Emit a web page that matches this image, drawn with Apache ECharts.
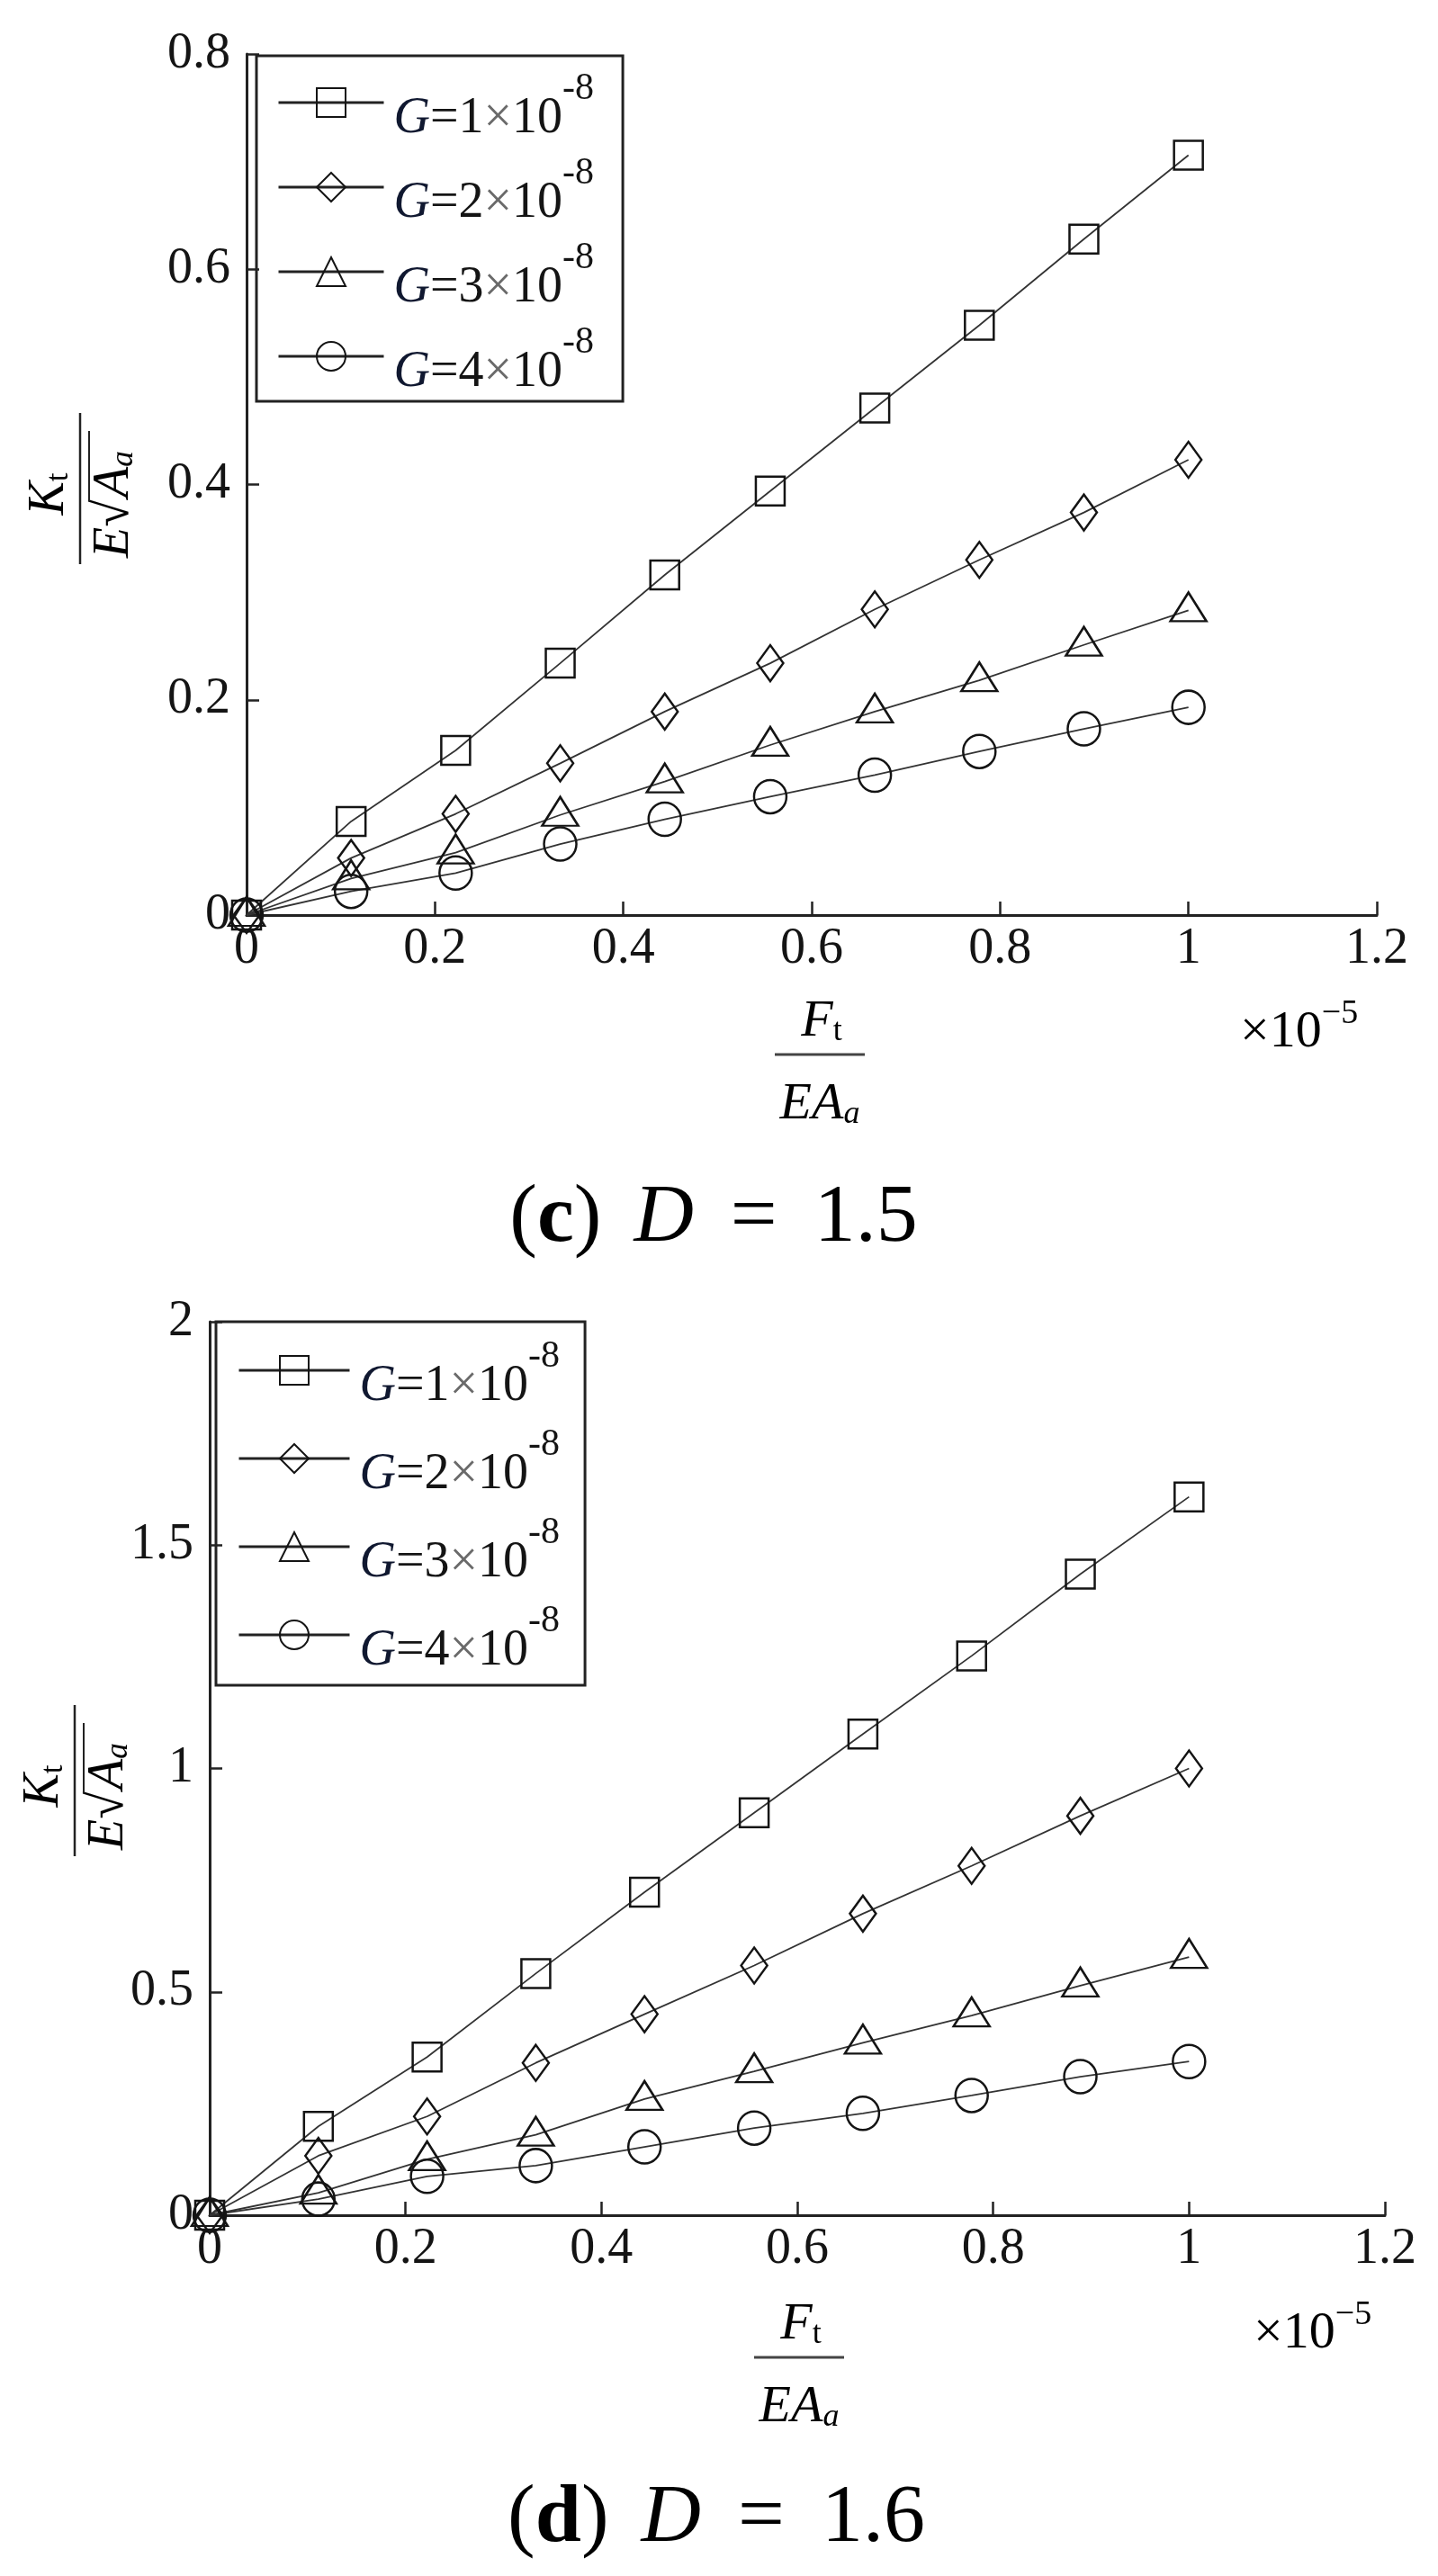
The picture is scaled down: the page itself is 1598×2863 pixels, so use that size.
<!DOCTYPE html>
<html>
<head>
<meta charset="utf-8">
<script src="https://cdn.jsdelivr.net/npm/echarts@6/dist/echarts.min.js"></script>
<style>
  html, body { margin: 0; padding: 0; background: #fff; }
  #chart { width: 1598px; height: 2863px; }
</style>
</head>
<body>
<div id="chart"></div>
<script>
// x values: F_t / (E A_a), in units of 1e-5
const xValues = [0, 0.111, 0.222, 0.333, 0.444, 0.556, 0.667, 0.778, 0.889, 1];

// (c) D = 1.5 : K_t / (E sqrt(A_a))
const d15G1 = [0, 0.087, 0.153, 0.234, 0.316, 0.394, 0.471, 0.548, 0.628, 0.706];
const d15G2 = [0, 0.053, 0.094, 0.141, 0.189, 0.234, 0.284, 0.330, 0.374, 0.423];
const d15G3 = [0, 0.034, 0.058, 0.093, 0.124, 0.158, 0.189, 0.218, 0.251, 0.283];
const d15G4 = [0, 0.022, 0.039, 0.066, 0.089, 0.110, 0.130, 0.152, 0.173, 0.193];

// (d) D = 1.6
const d16G1 = [0, 0.199, 0.354, 0.541, 0.723, 0.901, 1.077, 1.252, 1.435, 1.608];
const d16G2 = [0, 0.133, 0.221, 0.341, 0.450, 0.559, 0.675, 0.782, 0.894, 1.000];
const d16G3 = [0, 0.050, 0.125, 0.180, 0.260, 0.322, 0.386, 0.447, 0.514, 0.578];
const d16G4 = [0, 0.036, 0.087, 0.111, 0.153, 0.195, 0.228, 0.268, 0.310, 0.344];

const seriesNames = ['G=1×10-8', 'G=2×10-8', 'G=3×10-8', 'G=4×10-8'];
const gCoefs = ['1', '2', '3', '4'];
const gExp = '-8';
const panelCaptions = ['c', 'd'];
const panelD = ['1.5', '1.6'];

const FONT = 'Liberation Serif';
const INK = '#141414';

const symbols = ['rect', 'diamond', 'triangle', 'circle'];
const symbolSizes = [[32, 32], [29, 40], [40, 32], [36, 37]];
const symbolOffsets = [[0, 0], [0, 0], [0, -4], [0, 0]];

function tickFmt(v) { return String(+v.toFixed(2)); }

function richSet(size) {
  const s = Math.round(size * 0.62);
  return {
    i: { fontFamily: FONT, fontStyle: 'italic', fontSize: size, lineHeight: size, verticalAlign: 'top', color: INK },
    r: { fontFamily: FONT, fontSize: size, lineHeight: size, verticalAlign: 'top', color: INK },
    sub: { fontFamily: FONT, fontSize: s, lineHeight: s, verticalAlign: 'bottom', padding: [Math.round(size * 0.55), 0, 0, 0], color: INK },
    subi: { fontFamily: FONT, fontStyle: 'italic', fontSize: s, lineHeight: s, verticalAlign: 'bottom', padding: [Math.round(size * 0.55), 0, 0, 0], color: INK }
  };
}

// main text sits at the bottom of a tall line, the exponent at its top
function supRich(main, sup, lineH, supPad) {
  const base = { fontFamily: FONT, fontSize: main, height: main, lineHeight: main, verticalAlign: 'bottom', color: INK };
  return {
    g: Object.assign({}, base, { fontStyle: 'italic', color: '#101830', padding: [0, 0, 0, 6] }),
    n: base,
    x: Object.assign({}, base, { color: '#6a6a6a' }),
    s: { fontFamily: FONT, fontSize: sup, height: sup, lineHeight: lineH, verticalAlign: 'top', padding: [supPad, 0, 0, 0], color: INK }
  };
}

function makeSeries(idx, ys, g) {
  return {
    name: seriesNames[idx],
    type: 'line',
    xAxisIndex: g,
    yAxisIndex: g,
    data: xValues.map((x, i) => [x, ys[i]]),
    symbol: symbols[idx],
    symbolSize: symbolSizes[idx],
    symbolOffset: symbolOffsets[idx],
    showAllSymbol: true,
    lineStyle: { color: '#333', width: 1.8 },
    itemStyle: { color: 'transparent', borderColor: INK, borderWidth: 2.5 },
    emphasis: { disabled: true },
    silent: true
  };
}

function xAxisFor(g) {
  return {
    gridIndex: g, type: 'value', min: 0, max: 1.2, interval: 0.2,
    axisLine: { show: true, onZero: false, lineStyle: { color: '#222', width: 3 } },
    axisTick: { show: true, inside: true, length: 15, lineStyle: { color: '#222', width: 2.5 } },
    axisLabel: { fontFamily: FONT, fontSize: 56, color: INK, margin: 10, formatter: tickFmt },
    splitLine: { show: false }
  };
}

function yAxisFor(g, max, step) {
  return {
    gridIndex: g, type: 'value', min: 0, max: max, interval: step,
    axisLine: { show: true, onZero: false, lineStyle: { color: '#222', width: 3 } },
    axisTick: { show: true, inside: true, length: 14, lineStyle: { color: '#222', width: 2.5 } },
    axisLabel: { fontFamily: FONT, fontSize: 56, color: INK, margin: 18, formatter: tickFmt },
    splitLine: { show: false }
  };
}

function legendFor(left, top, itemWidth, itemGap, padding) {
  return {
    orient: 'vertical', left: left, top: top,
    data: seriesNames,
    selectedMode: false,
    itemWidth: itemWidth, itemHeight: 40, itemGap: itemGap,
    padding: padding,
    borderColor: '#222', borderWidth: 3,
    lineStyle: { color: '#222', width: 3 },
    formatter: name => {
      const k = seriesNames.indexOf(name);
      return '{g|G}{n|=' + gCoefs[k] + '}{x|×}{n|10}{s|' + gExp + '}';
    },
    textStyle: { rich: supRich(56, 42, 92, 10) }
  };
}

// fraction label for the y axis (rotated) and x axis
function yLabel(cx, cy) {
  const rich = richSet(56);
  return {
    type: 'group', x: cx, y: cy, rotation: Math.PI / 2,
    children: [
      { type: 'line', shape: { x1: -84, y1: 0, x2: 84, y2: 0 }, style: { stroke: '#222', lineWidth: 2.5 } },
      { type: 'text', x: -6, y: -34, style: { text: '{i|K}{sub|t}', rich: rich, align: 'center', verticalAlign: 'middle' } },
      { type: 'text', x: -12, y: 38, style: { text: '{i|E}{r|√}', rich: rich, align: 'right', verticalAlign: 'middle' } },
      { type: 'text', x: -10, y: 38, style: { text: '{i|A}{subi|a}', rich: rich, align: 'left', verticalAlign: 'middle' } },
      { type: 'line', shape: { x1: -14, y1: 10, x2: 64, y2: 10 }, style: { stroke: '#222', lineWidth: 2 } }
    ]
  };
}

function xLabel(cx, barY) {
  const rich = richSet(58);
  return {
    type: 'group', x: cx, y: barY,
    children: [
      { type: 'line', shape: { x1: -50, y1: 0, x2: 50, y2: 0 }, style: { stroke: '#444', lineWidth: 3 } },
      { type: 'text', x: 2, y: -36, style: { text: '{i|F}{sub|t}', rich: rich, align: 'center', verticalAlign: 'middle' } },
      { type: 'text', x: 0, y: 56, style: { text: '{i|EA}{subi|a}', rich: rich, align: 'center', verticalAlign: 'middle' } }
    ]
  };
}

function scaleNote(x, y) {
  const rich = supRich(58, 38, 80, 11);
  return {
    type: 'text', x: x, y: y,
    style: { text: '{n|×10}{s|−5}', align: 'left', verticalAlign: 'middle', rich: rich }
  };
}

function caption(cx, cy, k) {
  return {
    type: 'text', x: cx, y: cy,
    style: {
      text: '{p|(}{b|' + panelCaptions[k] + '}{p|)}{i|D}{q|=}{p|' + panelD[k] + '}',
      align: 'center', verticalAlign: 'middle',
      rich: {
        p: { fontFamily: FONT, fontSize: 92, color: '#000' },
        b: { fontFamily: FONT, fontWeight: 'bold', fontSize: 92, color: '#000' },
        i: { fontFamily: FONT, fontStyle: 'italic', fontSize: 92, color: '#000', padding: [0, 0, 0, 36] },
        q: { fontFamily: FONT, fontSize: 92, color: '#000', padding: [0, 41, 0, 41] }
      }
    }
  };
}

const chart = echarts.init(document.getElementById('chart'), null, { renderer: 'canvas' });

chart.setOption({
  animation: false,
  backgroundColor: '#fff',
  grid: [
    { left: 274, top: 60, width: 1256, height: 957 },
    { left: 233, top: 1469, width: 1306, height: 993 }
  ],
  xAxis: [xAxisFor(0), xAxisFor(1)],
  yAxis: [yAxisFor(0, 0.8, 0.2), yAxisFor(1, 2, 0.5)],
  legend: [
    legendFor(285, 62, 117, 2, [6, 32, 4, 23]),
    legendFor(240, 1469, 123, 6, [8, 28, 10, 24])
  ],
  series: [
    makeSeries(0, d15G1, 0), makeSeries(1, d15G2, 0), makeSeries(2, d15G3, 0), makeSeries(3, d15G4, 0),
    makeSeries(0, d16G1, 1), makeSeries(1, d16G2, 1), makeSeries(2, d16G3, 1), makeSeries(3, d16G4, 1)
  ],
  graphic: [
    yLabel(89, 543),
    yLabel(83, 1979),
    xLabel(911, 1172),
    xLabel(888, 2620),
    scaleNote(1378, 1137),
    scaleNote(1393, 2583),
    caption(793, 1355, 0),
    caption(796, 2800, 1)
  ]
});
</script>
</body>
</html>
